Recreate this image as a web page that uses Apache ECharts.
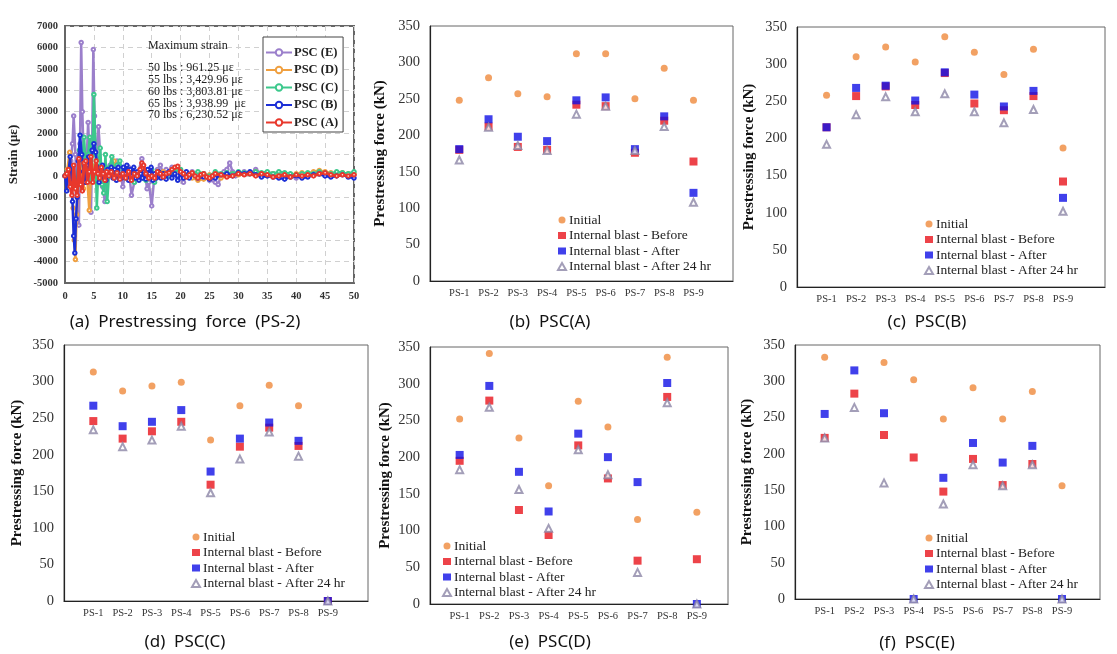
<!DOCTYPE html>
<html>
<head>
<meta charset="utf-8">
<script src="https://cdn.jsdelivr.net/npm/echarts@6/dist/echarts.min.js"></script>
<style>
html,body{margin:0;padding:0;background:#fff;}
#chart{width:1117px;height:654px;}
</style>
</head>
<body>
<div id="chart"></div>
<script>
// ---------- DATA ----------
const psLabels = ['PS-1','PS-2','PS-3','PS-4','PS-5','PS-6','PS-7','PS-8','PS-9'];
const seriesNames = ['Initial','Internal blast - Before','Internal blast - After','Internal blast - After 24 hr'];
const captions = ['(a)  Prestressing  force  (PS-2)','(b)  PSC(A)','(c)  PSC(B)','(d)  PSC(C)','(e)  PSC(D)','(f)  PSC(E)'];

const pscA_initial = [248, 279, 257, 253, 312, 312, 250, 292, 248];
const pscA_before  = [180, 212, 184, 180, 242, 240, 176, 220, 164];
const pscA_after   = [181, 222, 198, 192, 248, 252, 181, 226, 121];
const pscA_after24 = [166, 211, 186, 179, 229, 240, 179, 212, 108];

const pscB_initial = [258, 310, 323, 303, 337, 316, 286, 320, 187];
const pscB_before  = [215, 257, 270, 245, 288, 247, 238, 257, 142];
const pscB_after   = [215, 268, 271, 251, 289, 259, 243, 264, 120];
const pscB_after24 = [192, 232, 256, 236, 260, 236, 221, 239, 102];

const pscC_initial = [313, 287, 294, 299, 220, 267, 295, 267, null];
const pscC_before  = [246, 222, 232, 245, 159, 211, 237, 212, 0];
const pscC_after   = [267, 239, 245, 261, 177, 222, 244, 219, 0];
const pscC_after24 = [234, 211, 220, 239, 148, 194, 231, 198, 0];

const pscD_initial = [252, 341, 226, 161, 276, 241, 115, 336, 125];
const pscD_before  = [195, 277, 128, 94, 216, 171, 59, 282, 61];
const pscD_after   = [203, 297, 180, 126, 232, 200, 166, 301, 0];
const pscD_after24 = [183, 268, 156, 103, 210, 176, 43, 274, 0];

const pscE_initial = [333, null, 326, 302, 248, 291, 248, 286, 156];
const pscE_before  = [222, 283, 226, 195, 148, 193, 157, 186, null];
const pscE_after   = [255, 315, 256, 0, 167, 215, 188, 211, 0];
const pscE_after24 = [222, 264, 160, 0, 131, 185, 156, 185, 0];

const strainNames = ['PSC (E)','PSC (D)','PSC (C)','PSC (B)','PSC (A)'];
const maxStrainLines = ['Maximum strain','50 lbs : 961.25 \u03bc\u03b5','55 lbs : 3,429.96 \u03bc\u03b5','60 lbs : 3,803.81 \u03bc\u03b5','65 lbs : 3,938.99  \u03bc\u03b5','70 lbs : 6,230.52 \u03bc\u03b5'];

const strainE = [[0,0],[0.5,200],[1,700],[1.3,1500],[1.5,2800],[1.8,1000],[2.1,-800],[2.4,-2300],[2.6,1500],[2.8,6230],[3.0,3000],[3.3,200],[3.6,-300],[4.0,2500],[4.3,600],[4.5,-1700],[4.7,1500],[4.9,5900],[5.1,2800],[5.4,300],[5.8,2300],[6.2,500],[6.5,-500],[6.9,-1200],[7.3,300],[7.8,500],[8.3,0],[9,700],[9.5,200],[10,-500],[10.5,200],[11,400],[11.5,-900],[12,-300],[12.5,0],[13.3,800],[13.8,200],[14.2,-600],[14.5,-300],[15,-1400],[15.4,-200],[16,300],[16.5,500],[17,100],[17.5,300],[18,200],[18.5,400],[19,100],[19.5,0],[20,-100],[20.5,-300],[21,100],[22,200],[23,0],[24,100],[25,-200],[26,-300],[26.5,-400],[27,0],[27.5,200],[28,300],[28.5,600],[29,200],[29.5,0],[30,100],[31,200],[32,100],[33,300],[34,100],[35,0],[36,100],[37,150],[38,50],[39,0],[40,-100],[41,0],[42,100],[43,50],[44,100],[45,0],[46,50],[47,100],[48,100],[49,50],[50,50]];
const strainD = [[0,0],[0.4,300],[0.8,1100],[1.1,200],[1.4,-1500],[1.6,-3000],[1.8,-3900],[2.0,-1800],[2.3,-400],[2.6,900],[2.9,200],[3.2,-600],[3.5,600],[3.8,100],[4.2,-1600],[4.6,500],[5.0,200],[5.4,-300],[5.8,600],[6.3,200],[7,0],[7.5,300],[8,100],[8.5,700],[9,200],[9.5,-100],[10,100],[11,200],[12,-100],[13,300],[14,100],[15,0],[16,100],[17,200],[18,100],[19,300],[20,150],[21,0],[22,-100],[23,-200],[24,-150],[25,50],[26,0],[27,-100],[28,50],[29,100],[30,50],[31,100],[32,150],[33,200],[34,100],[35,50],[36,100],[37,50],[38,0],[39,50],[40,100],[41,150],[42,100],[43,200],[44,250],[45,200],[46,150],[47,100],[48,150],[49,100],[50,100]];
const strainC = [[0,0],[0.5,200],[1,400],[1.5,-300],[2,-500],[2.5,1200],[3.0,900],[3.3,1800],[3.6,400],[4.0,1000],[4.3,1800],[4.6,-200],[4.8,1500],[5.0,3800],[5.3,1000],[5.5,-1500],[5.8,600],[6.1,1300],[6.4,-400],[6.7,-800],[7.0,1000],[7.3,-1200],[7.7,400],[8.1,900],[8.5,200],[9,500],[9.5,700],[10,100],[10.5,-100],[11,300],[11.5,0],[12,-300],[12.5,100],[13,200],[13.5,-100],[14,-200],[14.5,100],[15,300],[15.5,-300],[16,200],[17,100],[18,0],[19,200],[20,300],[21,0],[22,100],[23,200],[24,100],[25,0],[26,200],[27,100],[28,150],[29,100],[30,200],[31,150],[32,100],[33,200],[34,150],[35,200],[36,100],[37,200],[38,150],[39,100],[40,50],[41,100],[42,150],[43,100],[44,200],[45,150],[46,100],[47,200],[48,150],[49,100],[50,200]];
const strainB = [[0,0],[0.3,-700],[0.6,200],[0.9,900],[1.1,-400],[1.3,-1200],[1.5,-2800],[1.7,-3600],[1.9,-2000],[2.1,-1000],[2.3,700],[2.6,1900],[2.9,1000],[3.2,200],[3.5,-300],[3.8,500],[4.1,900],[4.4,400],[4.7,1200],[5.0,1500],[5.3,1100],[5.6,400],[5.9,-300],[6.2,300],[6.5,500],[6.8,-100],[7.1,-200],[7.4,300],[7.7,100],[8.0,400],[8.3,-100],[8.6,300],[8.9,-200],[9.2,400],[9.5,0],[9.8,-100],[10.1,400],[10.4,100],[10.7,500],[11,-200],[11.3,300],[11.6,0],[11.9,400],[12.2,-100],[12.5,200],[12.8,-200],[13.1,100],[13.4,-100],[13.7,200],[14,-150],[14.3,300],[14.6,100],[14.9,400],[15.2,-200],[15.5,100],[15.8,-100],[16.2,200],[16.6,-100],[17,100],[17.5,-150],[18,200],[18.5,-100],[19,100],[19.5,-200],[20,100],[20.5,-100],[21,200],[21.5,-100],[22,100],[23,-100],[24,-50],[25,-150],[26,-100],[27,50],[28,100],[29,0],[30,150],[31,100],[32,200],[33,50],[34,-50],[35,0],[36,-50],[37,-100],[38,-150],[39,-50],[40,0],[41,-100],[42,-50],[43,50],[44,100],[45,0],[46,-50],[47,0],[48,50],[49,-50],[50,-100]];
const strainA = [[0,0],[0.3,100],[0.6,300],[0.9,-500],[1.2,-900],[1.5,500],[1.8,-600],[2.1,-900],[2.4,800],[2.7,-400],[3.0,-700],[3.3,600],[3.6,700],[3.9,-300],[4.2,200],[4.5,900],[4.8,-300],[5.1,200],[5.4,700],[5.7,100],[6.0,-100],[6.3,400],[6.6,100],[6.9,-200],[7.2,200],[7.6,0],[8,200],[8.5,-100],[9,150],[9.5,-150],[10,100],[10.5,-100],[11,200],[11.5,-200],[12,100],[12.5,0],[13,300],[13.3,600],[13.6,500],[14,100],[14.5,-100],[15,0],[15.5,-100],[16,200],[16.5,100],[17,-50],[17.5,100],[18,150],[18.5,300],[19,400],[19.5,450],[20,200],[20.5,100],[21,-50],[21.5,50],[22,150],[22.5,0],[23,-100],[23.5,50],[24,100],[24.5,-50],[25,-100],[25.5,0],[26,100],[27,50],[28,-50],[29,0],[30,100],[31,50],[32,100],[33,0],[34,100],[35,50],[36,-50],[37,0],[38,50],[39,-50],[40,50],[41,0],[42,50],[43,0],[44,100],[45,150],[46,50],[47,0],[48,50],[49,0],[50,50]];

// ---------- LAYOUT / STYLE ----------
const SERIF = '"Liberation Serif","Times New Roman",serif';
const SANS = '"Noto Sans","Noto Sans CJK KR",sans-serif';
const colInitial = '#ef8a3c', colBefore = '#e8141c', colAfter = '#1010e6', colTri = '#8c86a6';
const strainColors = ['#9b7fcb','#f0a040','#3cc88c','#1c2fd6','#e8382c'];

const panels = [
  {data:[pscA_initial,pscA_before,pscA_after,pscA_after24], grid:{left:430,top:26,width:303,height:255}, xmax:10.35, nameGap:42, legend:{left:557,top:213}, cap:[550,322]},
  {data:[pscB_initial,pscB_before,pscB_after,pscB_after24], grid:{left:797,top:27,width:308,height:260}, xmax:10.42, nameGap:40, legend:{left:924,top:217}, cap:[927,322]},
  {data:[pscC_initial,pscC_before,pscC_after,pscC_after24], grid:{left:64,top:345,width:304,height:256}, xmax:10.37, nameGap:39, legend:{left:191,top:530}, cap:[185,642]},
  {data:[pscD_initial,pscD_before,pscD_after,pscD_after24], grid:{left:430,top:347,width:298,height:257}, xmax:10.05, nameGap:37, legend:{left:442,top:539}, cap:[550,642]},
  {data:[pscE_initial,pscE_before,pscE_after,pscE_after24], grid:{left:795,top:345,width:305,height:254}, xmax:10.28, nameGap:40, legend:{left:924,top:531}, cap:[917,643]}
];

const grids = [], xAxes = [], yAxes = [], series = [], legends = [], graphics = [];

// Panel (a)
grids.push({left:65, top:26, width:289, height:257, show:true, borderColor:'#666', borderWidth:2, backgroundColor:'#fff'});
xAxes.push({type:'value', gridIndex:0, min:0, max:50, interval:5,
  axisLine:{show:true, onZero:false, lineStyle:{color:'#666', width:2}}, axisTick:{show:false},
  axisLabel:{fontFamily:SERIF, fontSize:10.5, fontWeight:'bold', color:'#333', margin:8},
  splitLine:{show:true, lineStyle:{color:'#d0d0d0', type:[5,4], width:1}}});
yAxes.push({type:'value', gridIndex:0, min:-5000, max:7000, interval:1000,
  name:'Strain (\u03bc\u03b5)', nameLocation:'middle', nameGap:45,
  nameTextStyle:{fontFamily:SERIF, fontSize:13, fontWeight:'bold', color:'#222'},
  axisLine:{show:true, lineStyle:{color:'#666', width:2}}, axisTick:{show:false},
  axisLabel:{fontFamily:SERIF, fontSize:10.5, fontWeight:'bold', color:'#333', margin:7, formatter:v=>String(v)},
  splitLine:{show:true, lineStyle:{color:'#d0d0d0', type:[5,4], width:1}}});
[strainE,strainD,strainC,strainB,strainA].forEach((d,i)=>{
  series.push({name:strainNames[i], type:'line', xAxisIndex:0, yAxisIndex:0, data:d,
    symbol:'emptyCircle', symbolSize:3.5, showSymbol:true, z:2+i,
    lineStyle:{color:strainColors[i], width:i===4?3:2.5},
    itemStyle:{color:strainColors[i], borderWidth:1}});
});
legends.push({left:263, top:37, orient:'vertical', data:strainNames, itemWidth:26, itemHeight:8, itemGap:4.5,
  padding:[9,5,3,2], borderColor:'#444', borderWidth:1, backgroundColor:'#fff', selectedMode:false,
  itemStyle:{borderWidth:1},
  textStyle:{fontFamily:SERIF, fontSize:12.5, fontWeight:'bold', color:'#222', padding:[0,0,0,-3]}});
maxStrainLines.forEach((t,i)=>{
  graphics.push({type:'text', left:148, top:(i===0?40:62 + (i-1)*11.8), z:100,
    style:{text:t, font:'12px ' + SERIF, fill:'#222'}});
});

// Panels (b)-(f)
panels.forEach((p,k)=>{
  const gi = k+1;
  grids.push(Object.assign({show:true, borderColor:'#666', borderWidth:1}, p.grid));
  xAxes.push({type:'value', gridIndex:gi, min:0, max:p.xmax, interval:1,
    axisLine:{show:true, onZero:false, lineStyle:{color:'#222', width:1.2}}, axisTick:{show:false},
    splitLine:{show:false},
    axisLabel:{fontFamily:SERIF, fontSize:10.5, color:'#333', margin:7, showMaxLabel:false, showMinLabel:false,
      formatter:v=> (Number.isInteger(v) && v>=1 && v<=9) ? psLabels[v-1] : ''}});
  yAxes.push({type:'value', gridIndex:gi, min:0, max:350, interval:50,
    name:'Prestressing force (kN)', nameLocation:'middle', nameGap:p.nameGap,
    nameTextStyle:{fontFamily:SERIF, fontSize:15, fontWeight:'bold', color:'#111'},
    axisLine:{show:true, lineStyle:{color:'#222', width:1.2}}, axisTick:{show:false},
    splitLine:{show:false},
    axisLabel:{fontFamily:SERIF, fontSize:14.5, color:'#333', margin:10}});
  const syms = ['circle','rect','rect','emptyTriangle'];
  const sizes = [7,8,8,7];
  const cols = [colInitial,colBefore,colAfter,colTri];
  p.data.forEach((arr,s)=>{
    const pts = [];
    arr.forEach((v,i)=>{ if(v!==null) pts.push([i+1, v]); });
    series.push({name:seriesNames[s], type:'scatter', xAxisIndex:gi, yAxisIndex:gi, data:pts,
      symbol:syms[s], symbolSize:sizes[s], z:2+s,
      itemStyle: s===3 ? {color:colTri, borderColor:colTri, borderWidth:1} : {color:cols[s]}});
  });
  legends.push({left:p.legend.left, top:p.legend.top, orient:'vertical', data:seriesNames,
    itemWidth:8, itemHeight:7, itemGap:1.5, itemStyle:{borderWidth:1}, padding:0, selectedMode:false,
    textStyle:{fontFamily:SERIF, fontSize:13.5, color:'#222', padding:[0,0,0,-2]}});
});

captions.forEach((c,i)=>{
  const pos = i===0 ? [185,322] : panels[i-1].cap;
  graphics.push({type:'text', x:pos[0], y:pos[1], z:100,
    style:{text:c, font:'17px ' + SANS, fill:'#111', textAlign:'center', textVerticalAlign:'middle'}});
});

const chart = echarts.init(document.getElementById('chart'), null, {renderer:'canvas'});
chart.setOption({
  backgroundColor:'#ffffff',
  animation:false,
  grid:grids, xAxis:xAxes, yAxis:yAxes, series:series, legend:legends, graphic:graphics
});
</script>
</body>
</html>
